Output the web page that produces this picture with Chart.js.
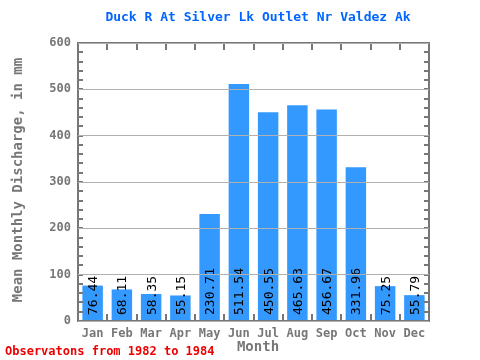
<!DOCTYPE html>
<html>
<head>
<meta charset="utf-8">
<script src="https://cdn.jsdelivr.net/npm/chart.js@4/dist/chart.umd.min.js"></script>
<style>
  html, body { margin: 0; padding: 0; background: #fff; }
  #wrap { width: 480px; height: 360px; }
</style>
</head>
<body>
<div id="wrap"><canvas id="flowChart" width="480" height="360"></canvas></div>
<script>
const months = ['Jan', 'Feb', 'Mar', 'Apr', 'May', 'Jun', 'Jul', 'Aug', 'Sep', 'Oct', 'Nov', 'Dec'];
const discharge = [76.44, 68.11, 58.35, 55.15, 230.71, 511.54, 450.55, 465.63, 456.67, 331.96, 75.25, 55.79];
const yTicks = [0, 100, 200, 300, 400, 500, 600];

const MONO = '"DejaVu Sans Mono", "Liberation Mono", monospace';
const AXIS_GRAY = '#777777';

// frame, minor ticks, value labels and the free text around the plot
const decorations = {
    id: 'decorations',
    afterDatasetsDraw(chart) {
        const ctx = chart.ctx;
        const area = chart.chartArea;
        const x = chart.scales.x;
        const y = chart.scales.y;

        ctx.save();
        ctx.strokeStyle = AXIS_GRAY;
        ctx.lineWidth = 2;

        // minor ticks every 20 on both sides
        for (let v = 0; v <= 600; v += 20) {
            const py = Math.round(y.getPixelForValue(v));
            ctx.beginPath();
            ctx.moveTo(area.left, py);
            ctx.lineTo(area.left + 5, py);
            ctx.moveTo(area.right, py);
            ctx.lineTo(area.right - 5, py);
            ctx.stroke();
        }

        // category boundary ticks top and bottom
        const step = (area.right - area.left) / months.length;
        for (let i = 1; i < months.length; i++) {
            const px = Math.round(area.left + i * step);
            ctx.beginPath();
            ctx.moveTo(px, area.bottom);
            ctx.lineTo(px, area.bottom - 7);
            ctx.moveTo(px, area.top);
            ctx.lineTo(px, area.top + 7);
            ctx.stroke();
        }

        // frame
        ctx.strokeRect(area.left, area.top, area.right - area.left, area.bottom - area.top);

        // value labels, rotated, starting at the bottom of each bar
        ctx.fillStyle = '#000000';
        ctx.font = '13px ' + MONO;
        ctx.textAlign = 'left';
        ctx.textBaseline = 'middle';
        discharge.forEach((val, i) => {
            const px = x.getPixelForValue(i);
            ctx.save();
            ctx.translate(px + 1, area.bottom - 6);
            ctx.rotate(-Math.PI / 2);
            ctx.fillText(val.toFixed(2), 0, 0);
            ctx.restore();
        });

        // title
        ctx.textAlign = 'center';
        ctx.fillStyle = '#0066ff';
        ctx.font = 'bold 13px ' + MONO;
        ctx.fillText('Duck R At Silver Lk Outlet Nr Valdez Ak', 258, 18);

        // axis titles
        ctx.fillStyle = AXIS_GRAY;
        ctx.font = 'bold 14px ' + MONO;
        ctx.fillText('Month', 258, 347);
        ctx.save();
        ctx.translate(18, 180);
        ctx.rotate(-Math.PI / 2);
        ctx.fillText('Mean Monthly Discharge, in mm', 0, 0);
        ctx.restore();

        // footer
        ctx.textAlign = 'left';
        ctx.fillStyle = '#ee0000';
        ctx.font = 'bold 12px ' + MONO;
        ctx.fillText('Observatons from 1982 to 1984', 5, 352);

        ctx.restore();
    }
};

const ctx = document.getElementById('flowChart').getContext('2d');
new Chart(ctx, {
    type: 'bar',
    data: {
        labels: months,
        datasets: [{
            label: 'Mean Monthly Discharge',
            data: discharge,
            backgroundColor: '#3399ff',
            borderWidth: 0,
            categoryPercentage: 1.0,
            barPercentage: 0.7
        }]
    },
    options: {
        responsive: false,
        animation: false,
        devicePixelRatio: 1,
        layout: {
            padding: { left: 0, right: 51, top: 43, bottom: 0 }
        },
        scales: {
            x: {
                afterFit(scale) { scale.height = 39; },
                grid: { display: false, drawTicks: false },
                border: { display: false },
                ticks: {
                    color: AXIS_GRAY,
                    padding: 6,
                    font: { family: MONO, size: 12, weight: 'bold' }
                }
            },
            y: {
                min: 0,
                max: 600,
                afterFit(scale) { scale.width = 78; },
                afterBuildTicks(scale) { scale.ticks = yTicks.map(v => ({ value: v })); },
                grid: { color: '#b0b0b0', lineWidth: 1, drawTicks: false, z: 1 },
                border: { display: false },
                ticks: {
                    color: AXIS_GRAY,
                    padding: 7,
                    font: { family: MONO, size: 12, weight: 'bold' }
                }
            }
        },
        plugins: {
            legend: { display: false },
            tooltip: { enabled: false },
            title: { display: false }
        }
    },
    plugins: [decorations]
});
</script>
</body>
</html>
